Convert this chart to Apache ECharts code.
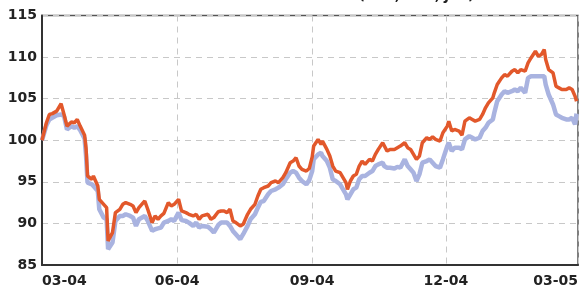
<!DOCTYPE html>
<html>
<head>
<meta charset="utf-8">
<script src="https://cdn.jsdelivr.net/npm/echarts@6/dist/echarts.min.js"></script>
<style>
html,body{margin:0;padding:0;background:#fff;}
#chart{width:581px;height:288px;}
</style>
</head>
<body>
<div id="chart"></div>
<script>
var dates = ['2004-03-01','2004-03-02','2004-03-04','2004-03-06','2004-03-08','2004-03-11','2004-03-12','2004-03-14','2004-03-16','2004-03-18',
'2004-03-21','2004-03-23','2004-03-25','2004-03-27','2004-03-30','2004-03-31','2004-04-01','2004-04-04','2004-04-05','2004-04-08',
'2004-04-09','2004-04-12','2004-04-14','2004-04-15','2004-04-18','2004-04-20','2004-04-23','2004-04-25','2004-04-27','2004-04-30',
'2004-05-02','2004-05-04','2004-05-06','2004-05-10','2004-05-12','2004-05-15','2004-05-17','2004-05-19','2004-05-21','2004-05-23',
'2004-05-26','2004-05-28','2004-05-30','2004-06-02','2004-06-04','2004-06-07','2004-06-09','2004-06-12','2004-06-14','2004-06-16',
'2004-06-18','2004-06-22','2004-06-24','2004-06-26','2004-06-29','2004-07-01','2004-07-03','2004-07-05','2004-07-07','2004-07-09',
'2004-07-11','2004-07-14','2004-07-16','2004-07-19','2004-07-21','2004-07-24','2004-07-26','2004-07-28','2004-07-30','2004-08-02',
'2004-08-04','2004-08-07','2004-08-09','2004-08-12','2004-08-14','2004-08-17','2004-08-19','2004-08-21','2004-08-23','2004-08-25',
'2004-08-28','2004-08-30','2004-09-01','2004-09-02','2004-09-05','2004-09-07','2004-09-08','2004-09-11','2004-09-13','2004-09-15',
'2004-09-17','2004-09-20','2004-09-22','2004-09-24','2004-09-25','2004-09-27','2004-09-29','2004-10-01','2004-10-03','2004-10-05',
'2004-10-07','2004-10-10','2004-10-12','2004-10-14','2004-10-16','2004-10-19','2004-10-20','2004-10-22','2004-10-24','2004-10-27',
'2004-10-29','2004-10-31','2004-11-03','2004-11-05','2004-11-07','2004-11-09','2004-11-11','2004-11-13','2004-11-15','2004-11-18',
'2004-11-20','2004-11-22','2004-11-24','2004-11-27','2004-11-29','2004-12-02','2004-12-03','2004-12-05','2004-12-07','2004-12-10',
'2004-12-12','2004-12-14','2004-12-17','2004-12-19','2004-12-21','2004-12-24','2004-12-26','2004-12-28','2004-12-30','2005-01-02',
'2005-01-03','2005-01-05','2005-01-08','2005-01-10','2005-01-12','2005-01-15','2005-01-17','2005-01-19','2005-01-21','2005-01-24',
'2005-01-26','2005-01-28','2005-01-31','2005-02-02','2005-02-04','2005-02-06','2005-02-07','2005-02-09','2005-02-12','2005-02-14',
'2005-02-16','2005-02-18','2005-02-21','2005-02-23','2005-02-25','2005-02-27','2005-02-28'];

// orange series
var seriesA = [100.0, 99.8, 102.1, 103.1, 103.2, 103.5, 103.4, 104.4, 103.1, 101.7,
102.2, 102.1, 102.5, 101.7, 100.6, 99.0, 95.7, 95.3, 95.7, 94.5,
92.9, 92.3, 91.9, 87.9, 88.9, 91.3, 91.7, 92.3, 92.5, 92.3,
92.1, 91.3, 91.9, 92.7, 91.7, 90.1, 90.9, 90.5, 90.9, 91.2,
92.5, 92.1, 92.3, 92.9, 91.5, 91.3, 91.1, 90.9, 91.1, 90.5,
90.9, 91.1, 90.5, 90.7, 91.4, 91.5, 91.5, 91.3, 91.7, 90.3,
90.1, 89.7, 89.9, 91.1, 91.7, 92.3, 93.3, 94.1, 94.3, 94.5,
94.9, 95.1, 94.9, 95.5, 96.1, 97.3, 97.5, 97.9, 96.9, 96.5,
96.3, 96.6, 98.0, 99.3, 100.1, 99.5, 99.9, 98.9, 98.1, 96.9,
96.3, 96.1, 95.5, 94.9, 94.1, 95.1, 95.7, 95.9, 96.9, 97.5,
97.1, 97.7, 97.5, 98.3, 98.9, 99.7, 99.9, 98.7, 98.9, 98.9,
99.1, 99.3, 99.7, 99.1, 98.9, 98.3, 97.7, 98.1, 99.7, 100.3,
100.1, 100.4, 100.1, 99.9, 100.9, 101.7, 102.3, 101.1, 101.3, 101.1,
100.6, 102.3, 102.7, 102.5, 102.3, 102.5, 103.1, 103.9, 104.5, 105.1,
105.7, 106.7, 107.5, 107.9, 107.7, 108.3, 108.5, 108.1, 108.5, 108.3,
109.3, 109.9, 110.7, 110.1, 110.3, 110.9, 109.7, 108.5, 108.1, 106.5,
106.3, 106.1, 106.1, 106.3, 106.1, 105.3, 104.7];

// lavender series
var seriesB = [100.0, 99.9, 101.8, 102.5, 102.7, 103.0, 103.0, 103.1, 102.9, 101.3,
101.7, 101.5, 101.7, 101.2, 100.2, 98.1, 94.9, 94.7, 94.9, 93.9,
91.7, 90.7, 90.5, 86.9, 87.7, 90.3, 90.9, 90.9, 91.1, 90.9,
90.7, 89.7, 90.5, 90.9, 90.3, 89.1, 89.3, 89.4, 89.5, 90.1,
90.3, 90.5, 90.3, 91.3, 90.4, 90.3, 90.1, 89.7, 90.1, 89.5,
89.7, 89.6, 89.3, 88.9, 89.8, 90.1, 90.1, 90.1, 89.7, 89.1,
88.7, 88.1, 88.7, 89.7, 90.5, 91.1, 91.9, 92.6, 92.7, 93.5,
93.9, 94.1, 94.3, 94.7, 95.3, 96.1, 96.3, 96.1, 95.5, 95.1,
94.7, 95.2, 96.3, 97.7, 98.3, 98.5, 98.1, 97.5, 96.7, 95.3,
95.1, 94.7, 94.1, 93.5, 92.9, 93.5, 94.1, 94.3, 95.3, 95.7,
95.7, 96.1, 96.3, 96.9, 97.1, 97.3, 96.9, 96.7, 96.7, 96.6,
96.8, 96.7, 97.7, 96.9, 96.5, 96.1, 95.1, 95.9, 97.3, 97.5,
97.7, 97.3, 96.9, 96.7, 97.7, 99.3, 99.7, 98.7, 99.1, 99.1,
98.9, 100.1, 100.5, 100.3, 100.1, 100.3, 101.1, 101.5, 102.1, 102.5,
103.3, 104.7, 105.5, 105.9, 105.7, 105.9, 106.1, 105.9, 106.3, 105.7,
107.5, 107.7, 107.7, 107.7, 107.7, 107.7, 106.7, 105.5, 104.3, 103.1,
102.9, 102.7, 102.5, 102.5, 102.7, 101.9, 103.2];

var xTicks = ['2004-03-01', '2004-06-01', '2004-09-01', '2004-12-01', '2005-03-01'];
var titleText = 'NOMINAL EXCHANGE RATE INDEX (EUR, USD, JPY)';

function ts(s) {
	var p = s.split('-');
	return Date.UTC(+p[0], +p[1] - 1, +p[2]);
}
function zip(d, v) {
	var out = [];
	for (var i = 0; i < d.length; i++) out.push([ts(d[i]), v[i]]);
	return out;
}
var tickVals = xTicks.map(ts);

var chart = echarts.init(document.getElementById('chart'));
var option = {
	animation: false,
	title: {
		text: titleText,
		right: 107,
		top: -10,
		padding: 0,
		textStyle: {color: '#222', fontSize: 13, fontWeight: 'bold', fontFamily: 'DejaVu Sans'}
	},
	grid: {
		left: 42, right: 2, top: 15.5, bottom: 22,
		show: true, borderColor: '#555', borderWidth: 1.5, containLabel: false
	},
	xAxis: {
		type: 'value',
		min: tickVals[0],
		max: tickVals[tickVals.length - 1],
		axisLine: {show: true, lineStyle: {color: '#333', width: 2}},
		axisTick: {show: false, customValues: tickVals},
		axisLabel: {
			customValues: tickVals,
			margin: 9,
			color: '#222', fontSize: 14, fontWeight: 'bold', fontFamily: 'DejaVu Sans',
			alignMinLabel: 'left', alignMaxLabel: 'right',
			showMinLabel: true, showMaxLabel: true,
			formatter: function (v) {
				var d = new Date(v);
				var m = d.getUTCMonth() + 1;
				var y = d.getUTCFullYear() % 100;
				return (m < 10 ? '0' : '') + m + '-' + (y < 10 ? '0' : '') + y;
			}
		},
		splitLine: {show: true, lineStyle: {color: '#c8c8c8', type: [6, 5], width: 1}}
	},
	yAxis: {
		type: 'value',
		min: 85, max: 115, interval: 5,
		axisLine: {show: true, lineStyle: {color: '#333', width: 2}},
		axisTick: {show: false},
		axisLabel: {margin: 5, color: '#222', fontSize: 14, fontWeight: 'bold', fontFamily: 'DejaVu Sans'},
		splitLine: {show: true, lineStyle: {color: '#c8c8c8', type: [6, 5], width: 1}}
	},
	series: [
		{
			type: 'line', showSymbol: false, symbol: 'none',
			data: zip(dates, seriesB),
			lineStyle: {color: '#a9b3e0', width: 4.5},
			z: 2
		},
		{
			type: 'line', showSymbol: false, symbol: 'none',
			data: zip(dates, seriesA),
			lineStyle: {color: '#e2582b', width: 3.5},
			z: 3
		}
	]
};
chart.setOption(option);
</script>
</body>
</html>
